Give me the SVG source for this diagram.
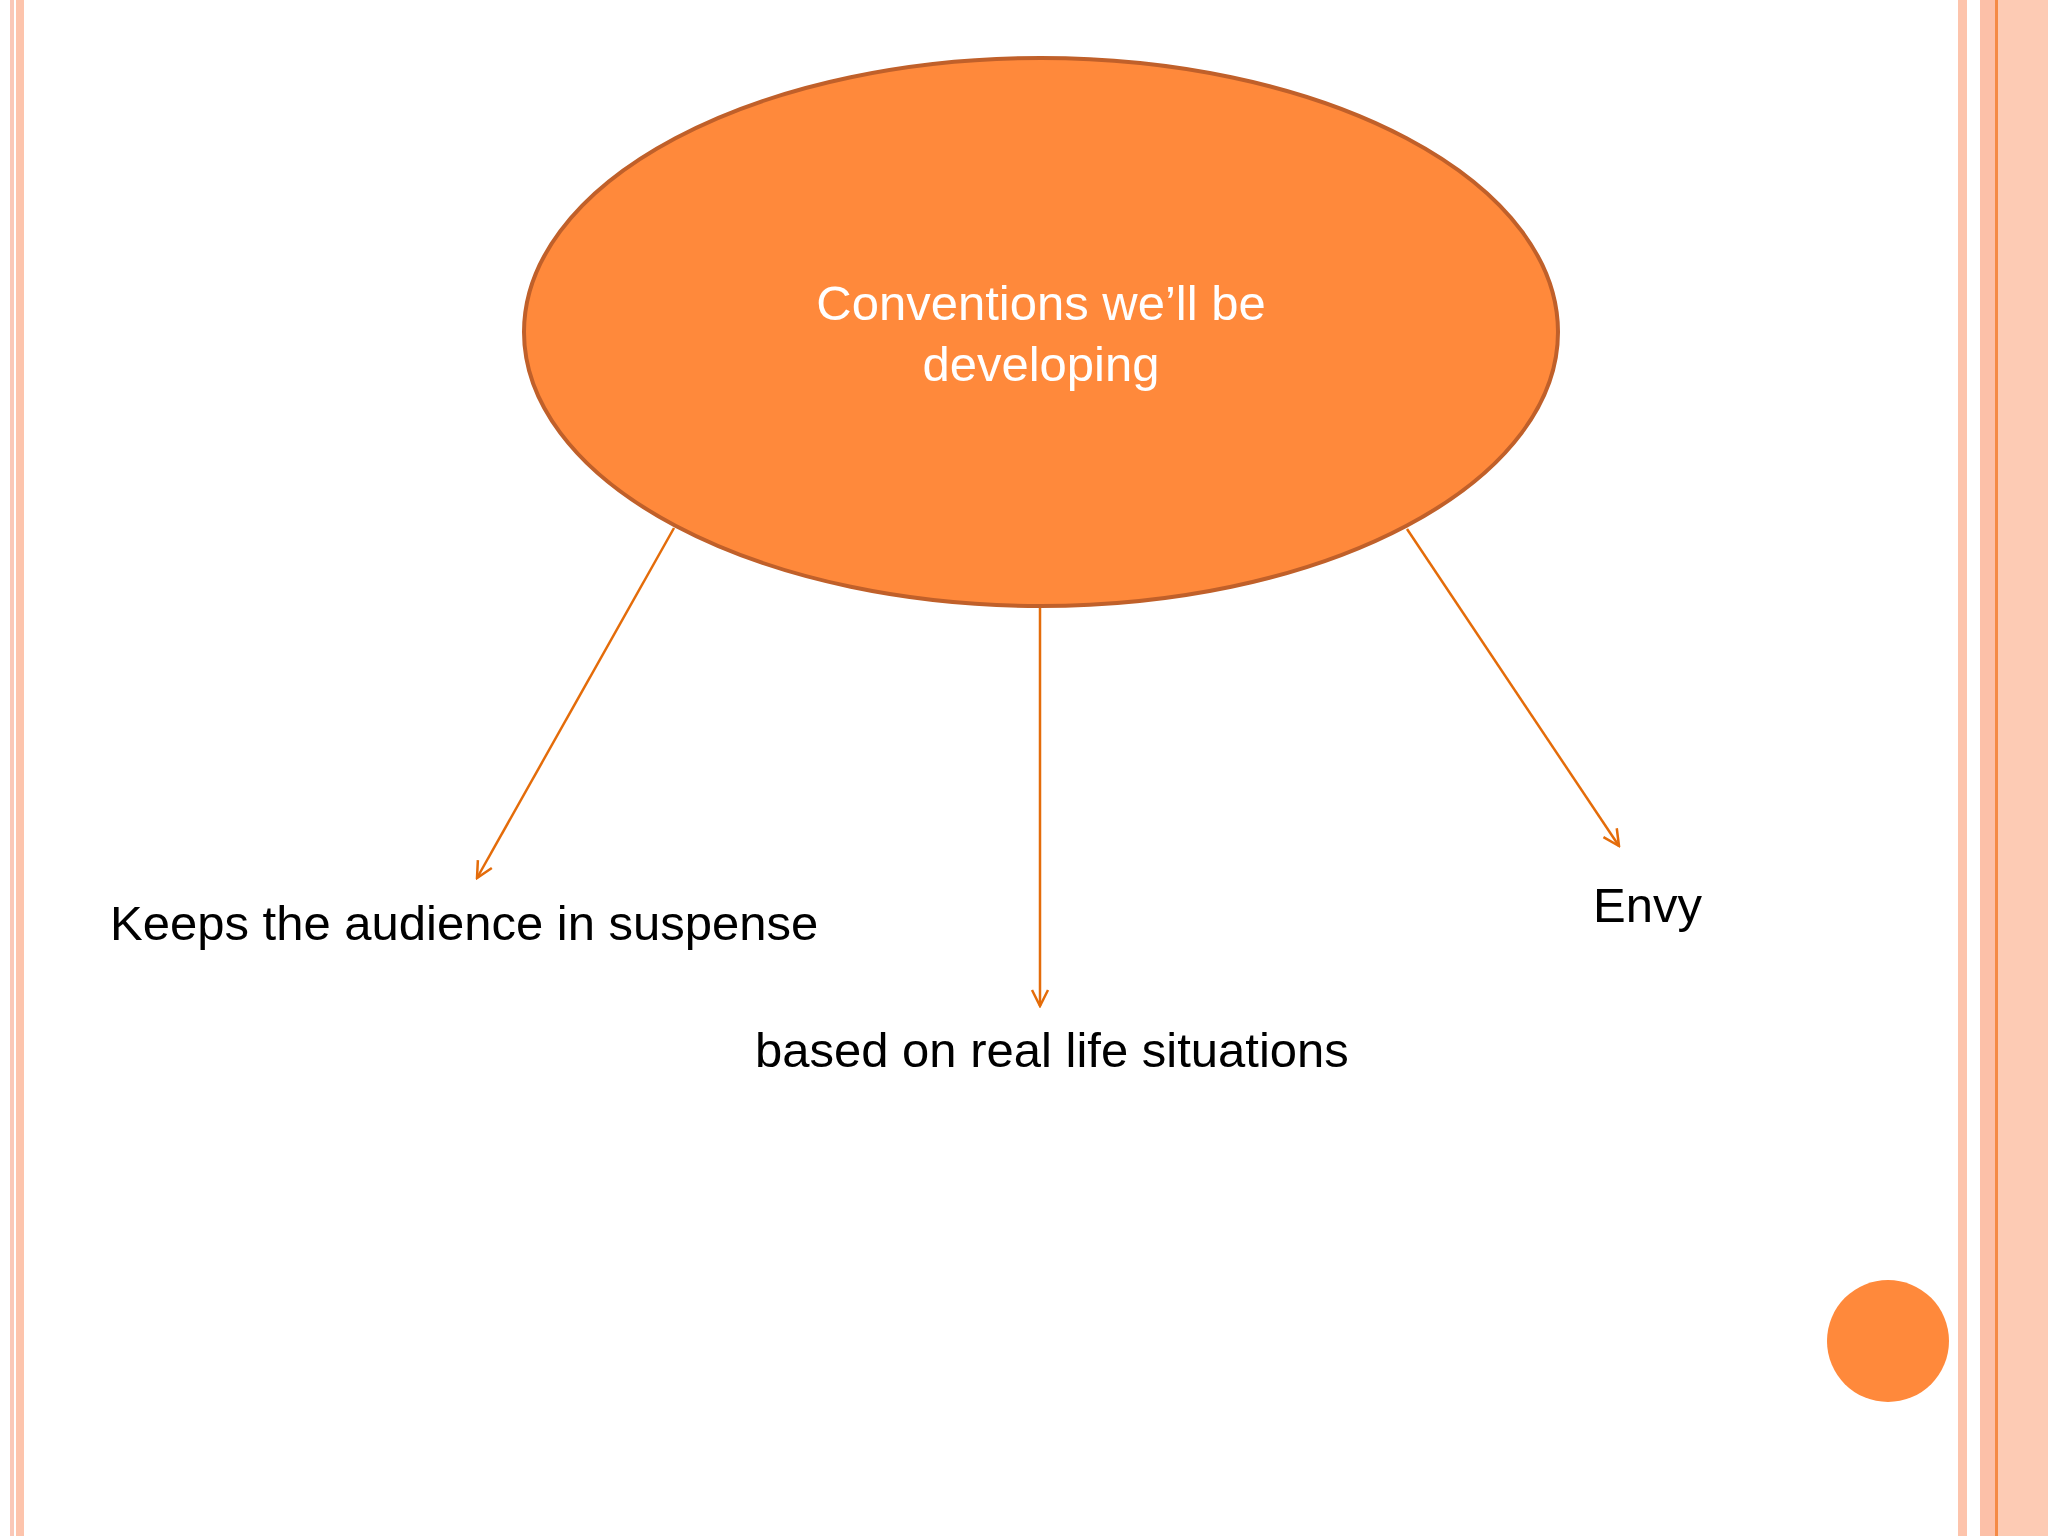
<svg xmlns="http://www.w3.org/2000/svg" width="2048" height="1536" viewBox="0 0 2048 1536">
<defs>
<marker id="ah" viewBox="0 0 20 20" refX="18" refY="10" markerWidth="20" markerHeight="20" markerUnits="userSpaceOnUse" orient="auto"><path d="M2,2 L18,10 L2,18" fill="none" stroke="#E46C0A" stroke-width="2.5"/></marker>
</defs>
<style>
.lbl{font-family:"Liberation Sans",Arial,sans-serif;font-size:49px;fill:#000}
.c{stroke:#E46C0A;stroke-width:2.5;fill:none;marker-end:url(#ah)}
</style>
<rect width="2048" height="1536" fill="#fff"/>
<g id="border">
<rect x="10" y="0" width="4" height="1536" fill="#FAC8B8"/>
<rect x="16" y="0" width="8" height="1536" fill="#FDC4AC"/>
<rect x="1958" y="0" width="9" height="1536" fill="#FDC4AC"/>
<rect x="1980" y="0" width="68" height="1536" fill="#FDCBB4"/>
<rect x="1980" y="0" width="15" height="1536" fill="#FCC0A8"/>
<rect x="1995" y="0" width="3" height="1536" fill="#F58A45"/>
</g>
<g id="connectors">
<line class="c" x1="674" y1="528" x2="477" y2="878"/>
<line class="c" x1="1040" y1="607" x2="1040" y2="1006"/>
<line class="c" x1="1407" y1="529" x2="1619" y2="846"/>
</g>
<g id="center">
<ellipse cx="1041" cy="332" rx="517" ry="274" fill="#FF893B" stroke="#C0602A" stroke-width="4"/>
<text x="1041" y="320" text-anchor="middle" font-family="Liberation Sans,Arial,sans-serif" font-size="49" fill="#fff">Conventions we’ll  be</text>
<text x="1041" y="381" text-anchor="middle" font-family="Liberation Sans,Arial,sans-serif" font-size="49" fill="#fff">developing</text>
</g>
<g id="n1"><text class="lbl" x="110" y="940">Keeps the audience in suspense</text></g>
<g id="n2"><text class="lbl" x="755" y="1067">based on real life situations</text></g>
<g id="n3"><text class="lbl" x="1593" y="922">Envy</text></g>
<g id="dot"><circle cx="1888" cy="1341" r="61" fill="#FF893B"/></g>
</svg>
